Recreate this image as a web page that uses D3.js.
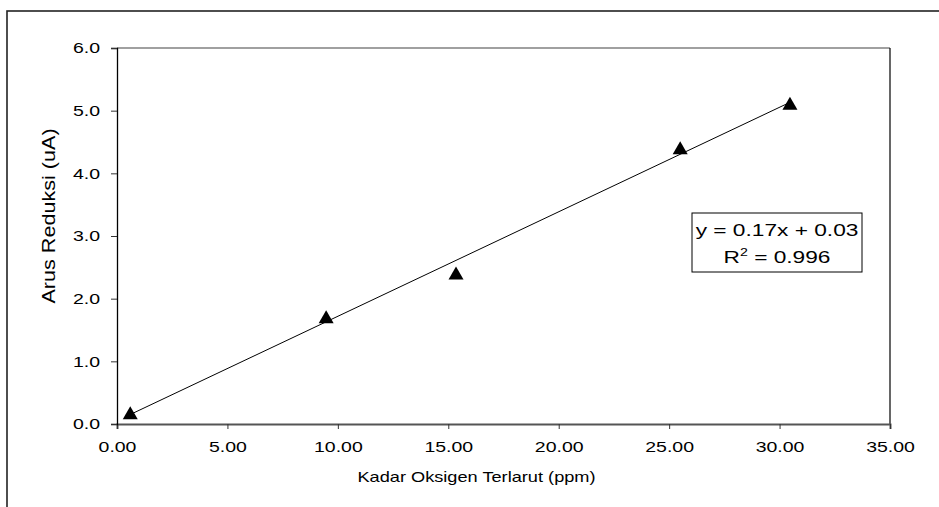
<!DOCTYPE html>
<html>
<head>
<meta charset="utf-8">
<script src="https://cdn.jsdelivr.net/npm/d3@7"></script>
<style>
  body { margin: 0; background: #fff; }
  svg text { font-family: "Liberation Sans", Arial, sans-serif; fill: #000; }
</style>
</head>
<body>
<div id="chart"></div>
<script>
// Data
var oksigen = [0.6, 9.47, 15.35, 25.5, 30.47];   // Kadar Oksigen Terlarut (ppm)
var arus = [0.18, 1.71, 2.41, 4.41, 5.12];       // Arus Reduksi (uA)
var xTicks = [0, 5, 10, 15, 20, 25, 30, 35];
var yTicks = [0, 1, 2, 3, 4, 5, 6];
var eqLine1 = "y = 0.17x + 0.03";
var eqR2 = "0.996";

var W = 939, H = 507,
    sx = 1.3; // glyphs in the picture are wider than Arial

var svg = d3.select("#chart").append("svg")
  .attr("width", W).attr("height", H);

svg.append("rect").attr("width", W).attr("height", H).attr("fill", "#fff");

// outer chart border (runs off the right and bottom)
svg.append("rect")
  .attr("x", 7).attr("y", 11).attr("width", W + 20).attr("height", H + 20)
  .attr("fill", "none").attr("stroke", "#222").attr("stroke-width", 1.6);

var x = d3.scaleLinear().domain([0, 35]).range([117, 890]);
var y = d3.scaleLinear().domain([0, 6]).range([424, 48]);

// plot area border top + right
svg.append("line").attr("x1", x(0)).attr("x2", x(35)).attr("y1", y(6)).attr("y2", y(6))
  .attr("stroke", "#808080").attr("stroke-width", 1.5);
svg.append("line").attr("x1", x(35)).attr("x2", x(35)).attr("y1", y(6)).attr("y2", y(0))
  .attr("stroke", "#000").attr("stroke-width", 1.2);

// x axis
var gx = svg.append("g").attr("transform", "translate(0," + y(0) + ")")
  .call(d3.axisBottom(x).tickValues(xTicks).tickFormat(d3.format(".2f"))
    .tickSizeOuter(0).tickSize(5).tickPadding(12));
gx.select(".domain").attr("stroke", "#555").attr("stroke-width", 2);
gx.selectAll(".tick line").attr("stroke", "#333");
gx.selectAll(".tick text")
  .attr("font-size", 15).attr("font-family", null)
  .attr("transform", "scale(" + sx + ",1)");

// y axis
var gy = svg.append("g").attr("transform", "translate(" + x(0) + ",0)")
  .call(d3.axisLeft(y).tickValues(yTicks).tickFormat(d3.format(".1f"))
    .tickSizeOuter(0).tickSize(6).tickPadding(0));
gy.select(".domain").attr("stroke", "#000").attr("stroke-width", 1.3);
gy.selectAll(".tick line").attr("stroke", "#333");
gy.selectAll(".tick text")
  .attr("font-size", 15).attr("font-family", null)
  .attr("x", 0)
  .attr("transform", "translate(-17,0) scale(" + sx + ",1)");

// axis titles
svg.append("text")
  .attr("transform", "translate(" + ((x(0) + x(35)) / 2 - 27) + ",482) scale(" + sx + ",1)")
  .attr("text-anchor", "middle").attr("font-size", 14)
  .text("Kadar Oksigen Terlarut (ppm)");

svg.append("text")
  .attr("transform", "translate(55,216) rotate(-90) scale(1.2,1)")
  .attr("text-anchor", "middle").attr("font-size", 18)
  .text("Arus Reduksi (uA)");

// linear trendline from least squares over the points
var mx = d3.mean(oksigen), my = d3.mean(arus);
var sxy = d3.sum(oksigen, function(v, i) { return (v - mx) * (arus[i] - my); });
var sxx = d3.sum(oksigen, function(v) { return (v - mx) * (v - mx); });
var slope = sxy / sxx, icpt = my - slope * mx;
var xr = d3.extent(oksigen);

svg.append("path")
  .datum(xr)
  .attr("d", d3.line().x(function(d) { return x(d); }).y(function(d) { return y(slope * d + icpt); }))
  .attr("stroke", "#000").attr("stroke-width", 1).attr("fill", "none");

// triangle markers
svg.selectAll(".pt").data(oksigen).enter().append("path")
  .attr("class", "pt")
  .attr("d", "M0,-6.5L7.5,6.5L-7.5,6.5Z")
  .attr("transform", function(d, i) { return "translate(" + x(d) + "," + y(arus[i]) + ")"; })
  .attr("fill", "#000");

// equation box
var bx = 692, by = 213, bw = 170, bh = 59;
svg.append("rect").attr("x", bx).attr("y", by).attr("width", bw).attr("height", bh)
  .attr("fill", "#fff").attr("stroke", "#000").attr("stroke-width", 1);

svg.append("text")
  .attr("transform", "translate(" + (bx + bw / 2) + ",236) scale(1.42,1)")
  .attr("text-anchor", "middle").attr("font-size", 16)
  .text(eqLine1);

var r2 = svg.append("text")
  .attr("transform", "translate(" + (bx + bw / 2) + ",263) scale(1.42,1)")
  .attr("text-anchor", "middle").attr("font-size", 16);
r2.append("tspan").text("R");
r2.append("tspan").attr("font-size", 10).attr("dy", -7).text("2");
r2.append("tspan").attr("dy", 7).text(" = " + eqR2);
</script>
</body>
</html>
